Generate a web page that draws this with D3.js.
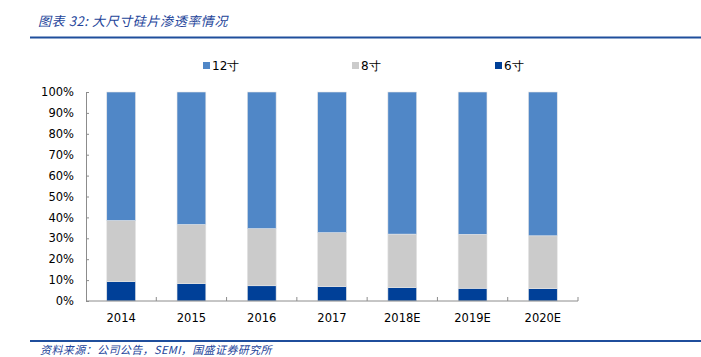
<!DOCTYPE html>
<html><head><meta charset="utf-8">
<script src="https://cdn.jsdelivr.net/npm/d3@7"></script>
<style>body{margin:0;background:#fff;}svg{display:block;}</style>
</head><body>
<script>
const categories = ["2014","2015","2016","2017","2018E","2019E","2020E"];
const seriesNames = ["6寸","8寸","12寸"];
const inch6 = [9.3, 8.3, 7.3, 6.9, 6.4, 6.1, 5.9];
const inch8 = [29.2, 28.3, 27.3, 25.8, 25.6, 25.8, 25.3];
const inch12 = [61.5, 63.4, 65.4, 67.3, 68.0, 68.1, 68.8];
const yTicks = [0,10,20,30,40,50,60,70,80,90,100];
const colors = {"6寸":"#004098","8寸":"#cbcbcb","12寸":"#5087c7"};

const W=701,H=357;
const svg=d3.select("body").append("svg").attr("width",W).attr("height",H);
const m={left:86,right:123,top:92,bottom:56};
const x=d3.scaleBand().domain(categories).range([m.left,W-m.right]).paddingInner(0.59).paddingOuter(0.295);
const y=d3.scaleLinear().domain([0,100]).range([H-m.bottom,m.top]);

// title
svg.append("text").attr("x",38).attr("y",26).attr("fill","#23449a")
  .style("font-family","'Noto Sans CJK SC'").style("font-style","italic").style("font-size","13px")
  .style("letter-spacing","0.6px")
  .text("图表 32:  大尺寸硅片渗透率情况");
svg.append("line").attr("x1",30).attr("x2",W).attr("y1",37.5).attr("y2",37.5).attr("stroke","#1f4e9c").attr("stroke-width",2);

// footer
svg.append("line").attr("x1",30).attr("x2",W).attr("y1",341).attr("y2",341).attr("stroke","#1f4e9c").attr("stroke-width",2);
svg.append("text").attr("x",40).attr("y",354).attr("fill","#23449a")
  .style("font-family","'Noto Sans CJK SC'").style("font-style","italic").style("font-size","11px")
  .style("letter-spacing","0.4px")
  .text("资料来源：公司公告，SEMI，国盛证券研究所");

// stacked data
const rows=categories.map((c,i)=>({cat:c,"6寸":inch6[i],"8寸":inch8[i],"12寸":inch12[i]}));
const stack=d3.stack().keys(seriesNames)(rows);
svg.append("g").selectAll("g").data(stack).join("g").attr("fill",d=>colors[d.key])
  .selectAll("rect").data(d=>d).join("rect")
  .attr("x",d=>x(d.data.cat)).attr("width",x.bandwidth())
  .attr("y",d=>y(d[1])).attr("height",d=>y(d[0])-y(d[1]))
  .attr("stroke","#e6e6e6").attr("stroke-width",0.6);

// y axis
const yAxis=d3.axisLeft(y).tickValues(yTicks).tickFormat(d=>d+"%").tickSizeInner(-3).tickSizeOuter(0).tickPadding(12);
const ga=svg.append("g").attr("transform",`translate(${m.left},0)`).call(yAxis);
ga.select(".domain").attr("stroke","#8c8c8c");
ga.selectAll(".tick line").attr("stroke","#8c8c8c");
ga.selectAll("text").style("font-family","'DejaVu Sans'").style("font-size","11.5px").attr("fill","#000");

// x axis
const gx=svg.append("g").attr("transform",`translate(0,${y(0)})`)
  .call(d3.axisBottom(x).tickSize(0).tickPadding(13));
gx.select(".domain").attr("stroke","#8c8c8c").attr("d",`M${m.left},0H${W-m.right}`);
gx.selectAll("text").style("font-family","'DejaVu Sans'").style("font-size","11.5px").attr("fill","#000");
const step=x.step();
svg.append("g").selectAll("line").data(d3.range(1,categories.length+1)).join("line")
  .attr("x1",i=>m.left+i*step).attr("x2",i=>m.left+i*step)
  .attr("y1",y(0)).attr("y2",y(0)-4).attr("stroke","#8c8c8c");

// legend
const legendItems=[{k:"12寸",x:203},{k:"8寸",x:352},{k:"6寸",x:495}];
const lg=svg.append("g").selectAll("g").data(legendItems).join("g").attr("transform",d=>`translate(${d.x},62)`);
lg.append("rect").attr("width",7).attr("height",7).attr("fill",d=>colors[d.k]);
lg.append("text").attr("x",9).attr("y",8).text(d=>d.k)
  .style("font-family","'DejaVu Sans'").style("font-size","12px").attr("fill","#000");
</script>
</body></html>
